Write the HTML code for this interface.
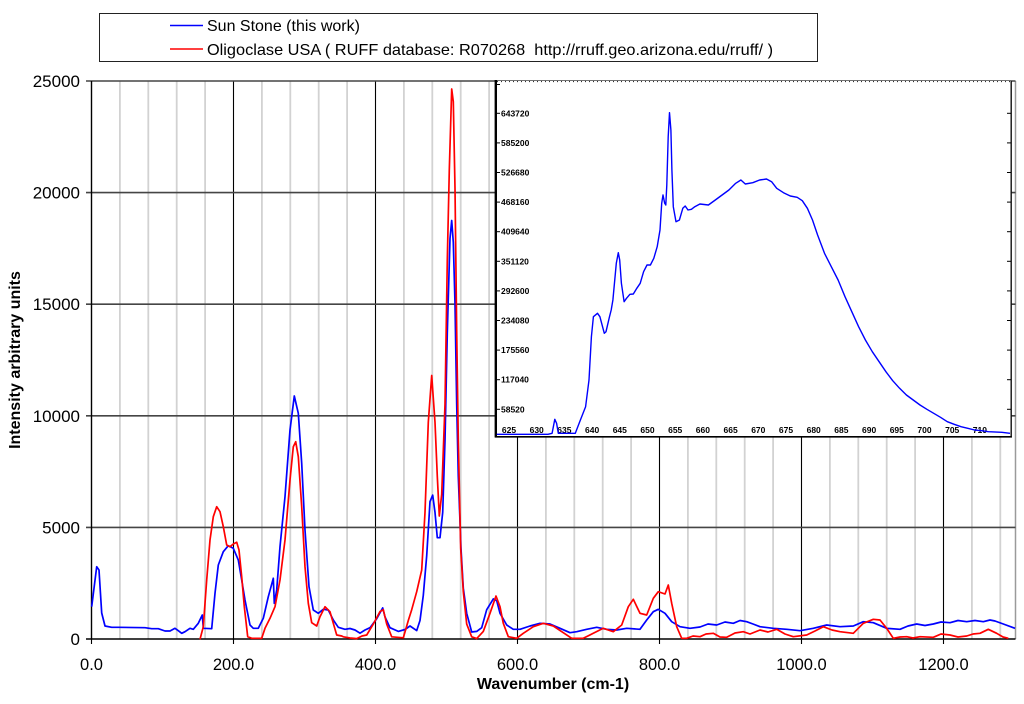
<!DOCTYPE html>
<html>
<head>
<meta charset="utf-8">
<style>
html,body{margin:0;padding:0;background:#fff;}
svg{display:block;}
text{font-family:"Liberation Sans",Arial,sans-serif;}
</style>
</head>
<body>
<svg width="1024" height="704" viewBox="0 0 1024 704" xmlns="http://www.w3.org/2000/svg">
<rect x="0" y="0" width="1024" height="704" fill="#fff"/>

<!-- Legend -->
<rect x="99.5" y="13.5" width="718" height="48" fill="#fff" stroke="#222" stroke-width="1"/>
<line x1="170" y1="25.5" x2="203" y2="25.5" stroke="#0000ff" stroke-width="1.6"/>
<text x="207" y="31" font-size="16" fill="#000">Sun Stone (this work)</text>
<line x1="170" y1="49" x2="203" y2="49" stroke="#ff0000" stroke-width="1.6"/>
<text x="207" y="55" font-size="16" fill="#000" xml:space="preserve" textLength="566" lengthAdjust="spacingAndGlyphs">Oligoclase USA ( RUFF database: R070268  http://rruff.geo.arizona.edu/rruff/ )</text>

<!-- Minor vertical gridlines -->
<g stroke="#d2d2d2" stroke-width="1.8">
<line x1="119.9" y1="81" x2="119.9" y2="639"/>
<line x1="148.3" y1="81" x2="148.3" y2="639"/>
<line x1="176.7" y1="81" x2="176.7" y2="639"/>
<line x1="205.1" y1="81" x2="205.1" y2="639"/>
<line x1="261.9" y1="81" x2="261.9" y2="639"/>
<line x1="290.3" y1="81" x2="290.3" y2="639"/>
<line x1="318.7" y1="81" x2="318.7" y2="639"/>
<line x1="347.1" y1="81" x2="347.1" y2="639"/>
<line x1="403.9" y1="81" x2="403.9" y2="639"/>
<line x1="432.3" y1="81" x2="432.3" y2="639"/>
<line x1="460.7" y1="81" x2="460.7" y2="639"/>
<line x1="489.1" y1="81" x2="489.1" y2="639"/>
<line x1="545.9" y1="81" x2="545.9" y2="639"/>
<line x1="574.3" y1="81" x2="574.3" y2="639"/>
<line x1="602.7" y1="81" x2="602.7" y2="639"/>
<line x1="631.1" y1="81" x2="631.1" y2="639"/>
<line x1="687.9" y1="81" x2="687.9" y2="639"/>
<line x1="716.3" y1="81" x2="716.3" y2="639"/>
<line x1="744.7" y1="81" x2="744.7" y2="639"/>
<line x1="773.1" y1="81" x2="773.1" y2="639"/>
<line x1="829.9" y1="81" x2="829.9" y2="639"/>
<line x1="858.3" y1="81" x2="858.3" y2="639"/>
<line x1="886.7" y1="81" x2="886.7" y2="639"/>
<line x1="915.1" y1="81" x2="915.1" y2="639"/>
<line x1="971.9" y1="81" x2="971.9" y2="639"/>
<line x1="1000.3" y1="81" x2="1000.3" y2="639"/>
</g>
<line x1="1015.5" y1="81" x2="1015.5" y2="639" stroke="#9a9a9a" stroke-width="1.5"/>

<!-- Major vertical gridlines -->
<g stroke="#000" stroke-width="1.1">
<line x1="233.5" y1="81" x2="233.5" y2="644"/>
<line x1="375.5" y1="81" x2="375.5" y2="644"/>
<line x1="517.5" y1="81" x2="517.5" y2="644"/>
<line x1="659.5" y1="81" x2="659.5" y2="644"/>
<line x1="801.5" y1="81" x2="801.5" y2="644"/>
<line x1="943.5" y1="81" x2="943.5" y2="644"/>
<line x1="91.5" y1="639" x2="91.5" y2="644"/>
</g>

<!-- Horizontal gridlines -->
<g stroke="#454545" stroke-width="1.6">
<line x1="86" y1="81" x2="1015.5" y2="81"/>
<line x1="86" y1="192.6" x2="1015.5" y2="192.6"/>
<line x1="86" y1="304.2" x2="1015.5" y2="304.2"/>
<line x1="86" y1="415.8" x2="1015.5" y2="415.8"/>
<line x1="86" y1="527.4" x2="1015.5" y2="527.4"/>
</g>

<!-- Axes -->
<line x1="91.5" y1="81" x2="91.5" y2="639" stroke="#000" stroke-width="1.4"/>
<line x1="86" y1="639" x2="1015.5" y2="639" stroke="#000" stroke-width="1.6"/>

<!-- Y tick labels -->
<g font-size="17" fill="#000" text-anchor="end">
<text x="80" y="87">25000</text>
<text x="80" y="198.6">20000</text>
<text x="80" y="310.2">15000</text>
<text x="80" y="421.8">10000</text>
<text x="80" y="533.4">5000</text>
<text x="80" y="645">0</text>
</g>

<!-- X tick labels -->
<g font-size="16.5" fill="#000" text-anchor="middle">
<text x="91.5" y="670">0.0</text>
<text x="233.5" y="670">200.0</text>
<text x="375.5" y="670">400.0</text>
<text x="517.5" y="670">600.0</text>
<text x="659.5" y="670">800.0</text>
<text x="801.5" y="670">1000.0</text>
<text x="943.5" y="670">1200.0</text>
</g>

<!-- Axis titles -->
<text x="553" y="689" font-size="16" font-weight="bold" text-anchor="middle" fill="#000">Wavenumber (cm-1)</text>
<text transform="translate(20,360) rotate(-90)" font-size="16" font-weight="bold" text-anchor="middle" fill="#000">Intensity arbitrary units</text>

<!-- Blue series -->
<polyline fill="none" stroke="#0000ff" stroke-width="1.7" stroke-linejoin="round" points="
91.7,606.7 96.7,566.7 99,570 101.7,613 105,626 111.7,627.3 118.3,627.3 145,627.7 151.7,628.7 158.3,628.7 165,631 170,631 175,628.3 178.3,630.7 181.7,633.3 185,631.7 190,628.3 193.3,629.3 198.3,623.3 202.3,615 203.3,628.3 211.7,628.7 215,593.3 218.3,565 223.3,551.7 228.3,545.7 233.3,548.3 238.3,560 241.7,580 245,600 250,625 253.3,628.3 258.3,628.3 263.3,618.3 268.3,596.7 273.3,578.3 274.3,603.3 276.7,590 280,546.7 285,496.7 290,430 294.3,396 298.3,413.3 301.7,463.3 305,530 309,586.7 313.3,610 318.3,613.3 323.3,609.3 328.3,610 333.3,620 338.3,627.3 345,629.3 350,628.5 355,630 360,633.2 365,630 370,627.7 376.7,618.7 382.7,607.9 385,616.9 390,627.7 398.3,631.4 405,629.5 410,626 416.7,630.6 420,620.5 423.3,595.3 426.7,555.7 430,501.6 432.7,495.1 435,512.4 437.3,537.7 440,537.7 442.7,512.4 445,440.4 447.3,332.3 450,238.6 451.7,220.5 453.3,242.2 455,303.4 456.7,404.3 458.3,476.4 461,548.5 463.3,588.1 466.7,613.3 471.7,632 476.7,631.4 481.7,627.7 486.7,609.7 493.3,598.9 496.7,600.7 500,613.3 506.7,625 513.3,629.3 520,629.3 530,626 540,623.3 550,624 560,628.3 570,632.7 576.7,631.7 586.7,629.3 596.7,627.3 606.7,629.3 616.7,630 626.7,628.3 640,629.3 646.7,620 653.3,611.7 658.3,609.3 665,613.3 671.7,621.7 680,626.7 690,628.3 700,627 708,624 716.7,625 725,622 733.3,623.3 740,620.5 746.7,621.7 753,624 760,626.7 773.3,628.3 786.7,629.3 800,630.7 813.3,628.3 826.7,625 840,626.7 853.3,626 863.3,621.7 873.3,622.7 886.7,628.3 900,629.3 908,626 916.7,624 925,625.5 933.3,624 941,622 950,622.7 958,620.5 966.7,621.7 975,620.5 983.3,621.7 990,620 995,621 1003.3,624 1015,628.3"/>

<!-- Red series -->
<polyline fill="none" stroke="#ff0000" stroke-width="1.7" stroke-linejoin="round" points="
200,639.3 203.3,626.7 206.7,580 210,540 213.3,516.7 216.7,506.7 220,511.7 223.3,526.7 226.7,545 230,546.7 233.3,544 236.7,542.3 239,550 241.7,576.7 244.3,606.7 247.7,636.7 251.7,638.3 261.7,638.3 265,628.3 270,618.3 275,606.7 280,580 285,540 290,480 293.3,446.7 295.7,441.7 298.3,456.7 301.7,506.7 305,566.7 308.3,603.3 311.7,622.7 316.7,626 320,616.7 325,606.7 330,611.7 333.3,623.3 336.7,635 341.7,636 343.3,636.8 350,638 356.7,638.6 362,636 366.7,635 373.3,624.1 380,611.5 383.3,609.7 386.7,624.1 391.7,636.8 403.3,637.8 408.3,620.5 411.7,609.7 416.7,591.7 421.7,570.1 425,512.4 428.3,422.3 431.7,375.5 435,422.3 437.3,476.4 439.3,516 441.7,494.4 445,404.3 447.3,260.2 449.3,170.1 451.7,89 453.3,101.6 455,188.1 456.7,332.3 458.3,440.4 460.7,548.5 463.3,591.7 466.7,624.1 471.7,636.8 476.7,638.6 483.3,631.4 490,613.3 496,596 500,606.7 503.3,623.3 508.3,636.7 516.7,638.3 523.3,633.3 533.3,626.7 543.3,623.3 553.3,626 563.3,632.7 571.7,638.3 583.3,638.3 593.3,633.3 603.3,628.3 613.3,631.7 621.7,625 628.3,606.7 633.3,599.3 640,613.3 646.7,615 653.3,598.3 658.3,591.7 665,594 668.3,585 671.7,603.3 676.7,626.7 681.7,638.3 686.7,638.3 693,636 700,636.7 706,634 713.3,633.3 720,637 726.7,637.3 735,633 743.3,631.7 750,634 760,630 768,632 776.7,629.3 785,634 793.3,636.7 806.7,635 815,631 823.3,626.7 832,630 840,631.7 853.3,633.3 863.3,623.3 873.3,619.3 880,620 886.7,628.3 893.3,638.3 900,637 906.7,636.7 913,638 920,636.7 933.3,637.3 941,634 950,635 958,637 966.7,636 973,634 980,633.3 988.3,629.3 996.7,633.3 1003,637 1008.3,638.3"/>

<!-- Inset -->
<rect x="496" y="81" width="515" height="355.5" fill="#fff"/>
<line x1="497" y1="81.5" x2="1011" y2="81.5" stroke="#333" stroke-width="1.2" stroke-dasharray="1 3"/>
<line x1="495.8" y1="80" x2="495.8" y2="437.5" stroke="#000" stroke-width="2.4"/>
<line x1="495" y1="436.8" x2="1012" y2="436.8" stroke="#000" stroke-width="1.6"/>
<line x1="1011.2" y1="81" x2="1011.2" y2="437.5" stroke="#111" stroke-width="1.4"/>

<!-- Inset y ticks & labels -->
<g stroke="#000" stroke-width="1">
<line x1="497" y1="84.5" x2="500" y2="84.5"/>
<line x1="497" y1="113.3" x2="500" y2="113.3"/>
<line x1="497" y1="142.9" x2="500" y2="142.9"/>
<line x1="497" y1="172.5" x2="500" y2="172.5"/>
<line x1="497" y1="202.1" x2="500" y2="202.1"/>
<line x1="497" y1="231.7" x2="500" y2="231.7"/>
<line x1="497" y1="261.3" x2="500" y2="261.3"/>
<line x1="497" y1="290.9" x2="500" y2="290.9"/>
<line x1="497" y1="320.5" x2="500" y2="320.5"/>
<line x1="497" y1="350.1" x2="500" y2="350.1"/>
<line x1="497" y1="379.7" x2="500" y2="379.7"/>
<line x1="497" y1="409.3" x2="500" y2="409.3"/>
<line x1="1007" y1="113.3" x2="1011" y2="113.3"/>
<line x1="1007" y1="142.9" x2="1011" y2="142.9"/>
<line x1="1007" y1="172.5" x2="1011" y2="172.5"/>
<line x1="1007" y1="202.1" x2="1011" y2="202.1"/>
<line x1="1007" y1="231.7" x2="1011" y2="231.7"/>
<line x1="1007" y1="261.3" x2="1011" y2="261.3"/>
<line x1="1007" y1="290.9" x2="1011" y2="290.9"/>
<line x1="1007" y1="320.5" x2="1011" y2="320.5"/>
<line x1="1007" y1="350.1" x2="1011" y2="350.1"/>
<line x1="1007" y1="379.7" x2="1011" y2="379.7"/>
<line x1="1007" y1="409.3" x2="1011" y2="409.3"/>
</g>
<g font-size="8.5" font-weight="bold" fill="#000">
<text x="501" y="116.3">643720</text>
<text x="501" y="145.9">585200</text>
<text x="501" y="175.5">526680</text>
<text x="501" y="205.1">468160</text>
<text x="501" y="234.7">409640</text>
<text x="501" y="264.3">351120</text>
<text x="501" y="293.9">292600</text>
<text x="501" y="323.5">234080</text>
<text x="501" y="353.1">175560</text>
<text x="501" y="382.7">117040</text>
<text x="501" y="412.3">58520</text>
</g>
<g font-size="8.5" font-weight="bold" fill="#000" text-anchor="middle">
<text x="509" y="433">625</text>
<text x="536.7" y="433">630</text>
<text x="564.4" y="433">635</text>
<text x="592.1" y="433">640</text>
<text x="619.8" y="433">645</text>
<text x="647.5" y="433">650</text>
<text x="675.2" y="433">655</text>
<text x="702.9" y="433">660</text>
<text x="730.6" y="433">665</text>
<text x="758.3" y="433">670</text>
<text x="786" y="433">675</text>
<text x="813.7" y="433">680</text>
<text x="841.4" y="433">685</text>
<text x="869.1" y="433">690</text>
<text x="896.8" y="433">695</text>
<text x="924.5" y="433">700</text>
<text x="952.2" y="433">705</text>
<text x="979.9" y="433">710</text>
</g>

<!-- Inset curve -->
<polyline fill="none" stroke="#0000ff" stroke-width="1.4" stroke-linejoin="round" points="
496.8,434.3 548,434.3 552.1,433.3 554.8,419.3 556.6,423.3 558.3,433.3 575.3,433.3 580.4,420 585.6,406.7 589,380 591.4,336.7 593.4,316.7 597.5,313.3 599.9,316.7 604.3,333.3 606,331.7 609.5,316.7 611.2,310 612.9,300 616.3,263.3 618.3,252.7 619.7,260 621.4,283.3 624.1,301.7 626.5,298.3 629.9,294.3 633.3,294 636.8,288.3 640.2,283.3 643.6,271.7 647,265 650.4,265 653.8,258.3 657.2,246.7 660,230 661.7,203.3 663,195 664.7,203.3 665.8,205 666.8,185 668.2,136.7 669.5,112.7 670.9,130 671.9,170 673.3,206.7 676,221.7 679.4,220 682.8,208.3 685.2,206 688,210 691.4,209.3 694.8,206.7 699.9,204 708.4,205 715.3,200 722.1,195 728.9,190 735.7,183.3 740.9,180 745.3,184 752.8,182.7 759.6,180 766.5,179 771.6,181.7 776.7,188.3 783.5,192.7 790.3,196 797.2,197.3 802.3,200.7 807.4,208.3 812.5,220 817.6,235 824.5,253.3 831.3,266.7 838.1,280 845,296.7 851.8,311.7 858.6,326.7 865.4,340 872.3,351.7 879.1,361.7 885.9,371.7 892.7,380.7 899.6,388.3 906.4,395 913.2,400 920,405 926.9,409.3 933.7,413.3 940.5,417.3 947.3,421.7 954.2,424.3 961,426.7 967.8,428.3 974.6,430 981.5,430.7 988.3,431.7 1001.9,432.3 1010,433.3"/>
</svg>
</body>
</html>
